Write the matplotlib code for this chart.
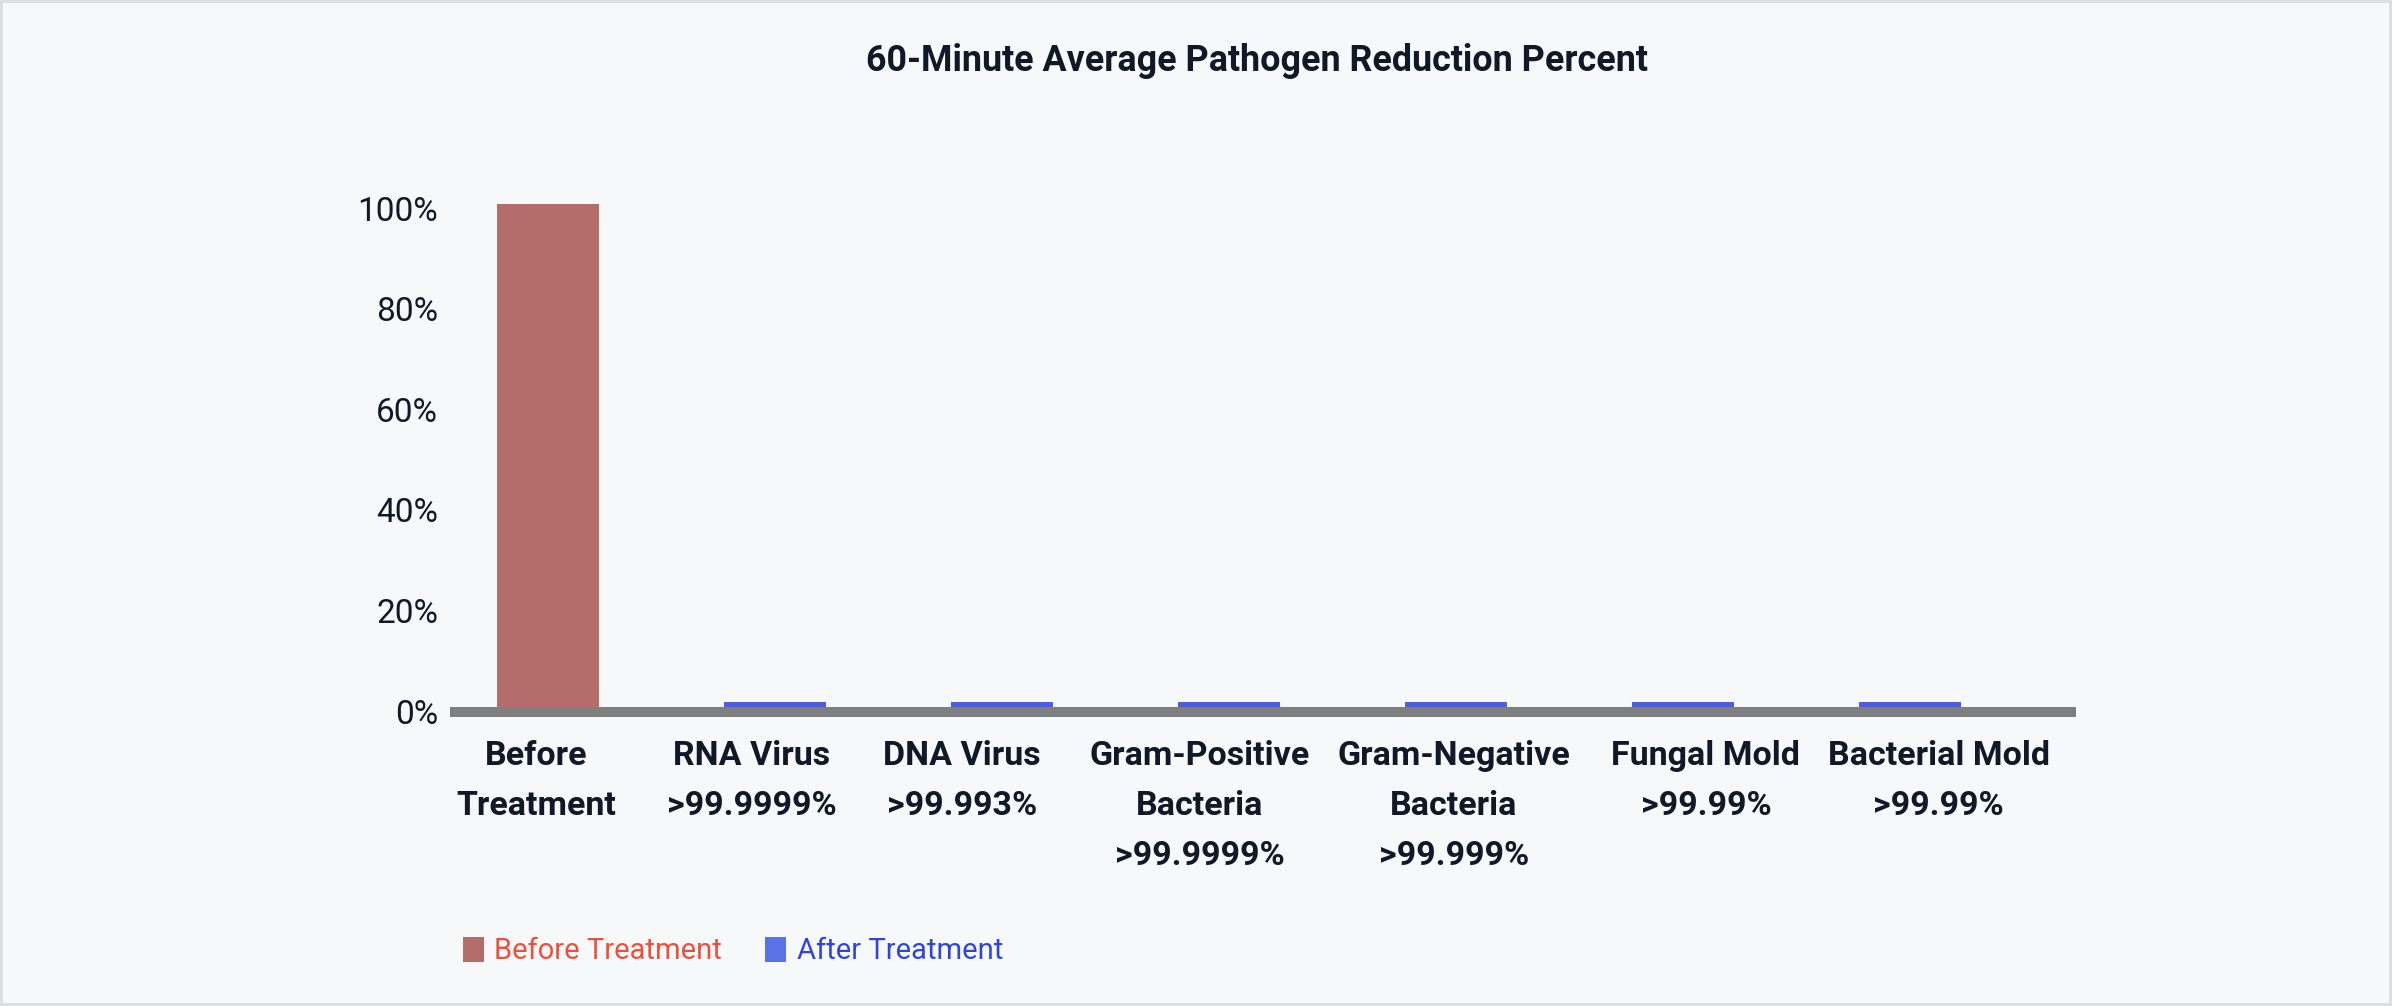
import matplotlib
matplotlib.use("Agg")
import matplotlib.pyplot as plt
import matplotlib.transforms as mtransforms
from matplotlib.patches import Patch
from matplotlib.ticker import FuncFormatter

# ---- data ----
categories = [
    "Before\nTreatment",
    "RNA Virus\n>99.9999%",
    "DNA Virus\n>99.993%",
    "Gram-Positive\nBacteria\n>99.9999%",
    "Gram-Negative\nBacteria\n>99.999%",
    "Fungal Mold\n>99.99%",
    "Bacterial Mold\n>99.99%",
]
before_values = [100, 0, 0, 0, 0, 0, 0]
after_values = [0, 1, 1, 1, 1, 1, 1]
series_names = ["Before Treatment", "After Treatment"]
y_ticks = [0, 20, 40, 60, 80, 100]
title = "60-Minute Average Pathogen Reduction Percent"

# ---- style ----
BG = "#f7f8fa"
RED = "#b36d6a"
BLUE_BAR = "#4a5fd8"
BLUE_LEG = "#5a72e4"
TXT = "#111827"
GRAY = "#7f7f7f"
# horizontal nudges (px) of the category labels, as laid out in the original
label_nudge_px = [-12, -23, -40, -29, -2, 23, 29]

plt.rcParams["font.family"] = ["Roboto", "DejaVu Sans"]

W, H, DPI = 2392, 1006, 100
fig = plt.figure(figsize=(W / DPI, H / DPI), dpi=DPI)
fig.patch.set_facecolor(BG)
fig.patch.set_edgecolor("#dcdee2")
fig.patch.set_linewidth(3)

ax_left, ax_right = 455 / W, 2071 / W
ax_bottom = (H - 707) / H
ax_top = (H - 179) / H
ax = fig.add_axes([ax_left, ax_bottom, ax_right - ax_left, ax_top - ax_bottom])
ax.set_facecolor(BG)

x = list(range(len(categories)))
bw = 0.449
bars_before = [(xi, v) for xi, v in zip(x, before_values) if v > 0]
bars_after = [(xi, v) for xi, v in zip(x, after_values) if v > 0]
ax.bar([b[0] for b in bars_before], [b[1] for b in bars_before], width=bw,
       color=RED, zorder=2)
ax.bar([b[0] for b in bars_after], [b[1] for b in bars_after], width=bw,
       color=BLUE_BAR, zorder=2)

ax.set_xlim(-0.41, 6.71)
ax.set_ylim(0, 105)

for s in ["top", "right", "left"]:
    ax.spines[s].set_visible(False)
ax.spines["bottom"].set_color(GRAY)
ax.spines["bottom"].set_linewidth(7.2)
ax.spines["bottom"].set_position(("outward", 3.6))
ax.spines["bottom"].set_zorder(3)

ax.set_yticks(y_ticks)
ax.yaxis.set_major_formatter(FuncFormatter(lambda v, p: f"{int(v)}%"))
ax.tick_params(axis="y", length=0, pad=12, labelsize=24, labelcolor=TXT)
offset = mtransforms.ScaledTranslation(0, -4 / DPI, fig.dpi_scale_trans)
for lab in ax.get_yticklabels():
    lab.set_transform(lab.get_transform() + offset)

ax.set_xticks(x)
ax.set_xticklabels(categories, fontsize=24.5, fontweight="bold", color=TXT,
                   linespacing=1.72)
ax.tick_params(axis="x", length=0, pad=20)
for lab, dx in zip(ax.get_xticklabels(), label_nudge_px):
    lab.set_transform(lab.get_transform() +
                      mtransforms.ScaledTranslation(dx / DPI, 0, fig.dpi_scale_trans))

fig.text(1257 / W, 1 - 61 / H, title, ha="center", va="center",
         fontsize=25.8, fontweight="bold", color=TXT)

handles = [Patch(facecolor=RED, edgecolor="none"),
           Patch(facecolor=BLUE_LEG, edgecolor="none")]
leg = fig.legend(handles, series_names, loc="center left",
                 bbox_to_anchor=(463 / W, 1 - 951 / H), ncol=2, frameon=False,
                 fontsize=21, handlelength=0.72, handleheight=0.96,
                 handletextpad=0.36, columnspacing=1.47, borderpad=0,
                 borderaxespad=0, labelcolor=["#ec4f3c", "#2d46d8"])

fig.savefig("out.png", dpi=DPI, facecolor=BG)
